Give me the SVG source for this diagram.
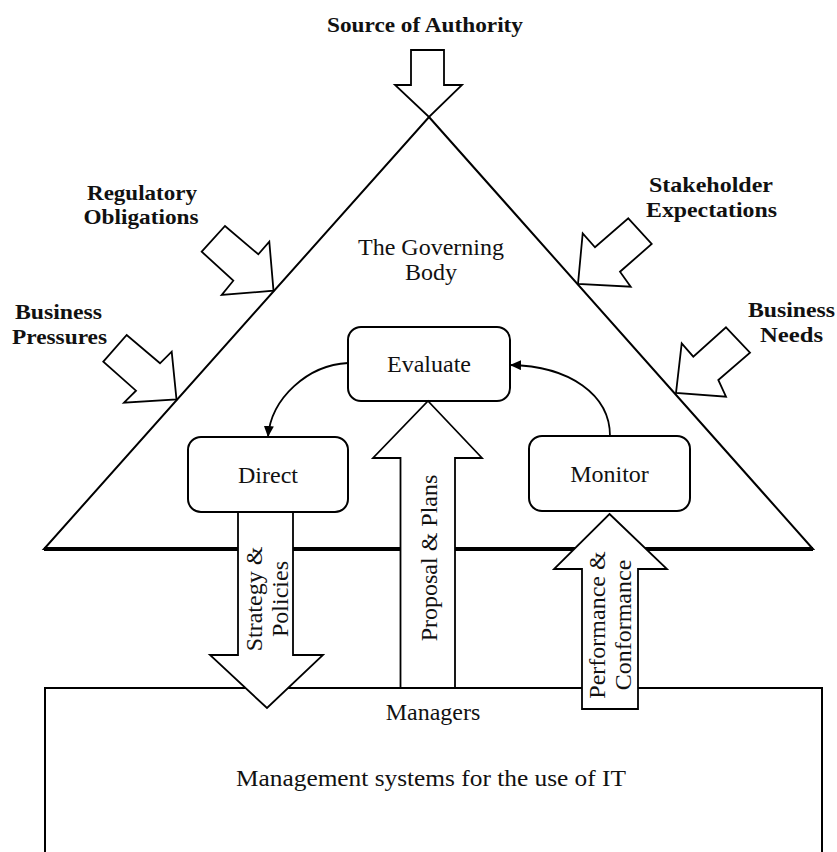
<svg xmlns="http://www.w3.org/2000/svg" width="837" height="852" viewBox="0 0 837 852">
<style>
.bg{fill:#ffffff}
.shape{fill:#ffffff;stroke:#000;stroke-width:2;stroke-linejoin:miter}
.blk{fill:#ffffff;stroke:#000;stroke-width:1.8;stroke-linejoin:miter}
.box{fill:#ffffff;stroke:#000;stroke-width:2}
.curve{fill:none;stroke:#000;stroke-width:1.8}
.lbl{font-family:"Liberation Serif","DejaVu Serif",serif;font-size:24px;fill:#111;text-anchor:middle}
.bold{font-family:"Liberation Serif","DejaVu Serif",serif;font-size:22px;font-weight:bold;fill:#111;text-anchor:middle}
</style>
<defs>
<marker id="ah" markerUnits="userSpaceOnUse" markerWidth="12" markerHeight="10" refX="11" refY="5" orient="auto">
<path d="M0,0 L11,5 L0,10 z" fill="#000"/>
</marker>
</defs>
<rect class="bg" x="0" y="0" width="837" height="852"/>

<g id="governing-body">
<polygon class="shape" points="429,117 813,549 44,549"/>
<line x1="44" y1="549" x2="813" y2="549" stroke="#000" stroke-width="4"/>
<text class="lbl" x="431" y="255">The Governing</text>
<text class="lbl" x="431" y="280">Body</text>
</g>

<g id="managers">
<rect class="box" x="45" y="688" width="777" height="200"/>
<text class="lbl" x="433" y="720">Managers</text>
<text class="lbl" x="431" y="786" textLength="390" lengthAdjust="spacingAndGlyphs">Management systems for the use of IT</text>
</g>

<g id="evaluate">
<rect class="box" x="348" y="327" width="162" height="74" rx="13"/>
<text class="lbl" x="429" y="372">Evaluate</text>
</g>

<g id="direct">
<rect class="box" x="188" y="437" width="160" height="75" rx="13"/>
<text class="lbl" x="268" y="483">Direct</text>
</g>

<g id="monitor">
<rect class="box" x="529" y="436" width="161" height="75" rx="13"/>
<text class="lbl" x="609.5" y="482">Monitor</text>
</g>

<g id="connectors">
<path class="curve" d="M348,363 C308,365 271,398 268,437" marker-end="url(#ah)"/>
<path class="curve" d="M610,436 C610,395 570,366 510,365" marker-end="url(#ah)"/>

<g id="strategy-policies">
<polygon class="blk" points="238,512 293,512 293,655 323,655 267,708 210,655 238,655"/>
<text class="lbl" transform="translate(262,599) rotate(-90)">Strategy &amp;</text>
<text class="lbl" transform="translate(288,599) rotate(-90)">Policies</text>
</g>

<g id="proposal-plans">
<polygon class="blk" points="428,401 482,458 455,458 455,688 400.5,688 400.5,458 373,458"/>
<text class="lbl" transform="translate(437,558) rotate(-90)">Proposal &amp; Plans</text>
</g>

<g id="performance-conformance">
<polygon class="blk" points="609.5,514 667,569 638,569 638,709 582,709 582,569 554,569"/>
<text class="lbl" transform="translate(605,625) rotate(-90)">Performance &amp;</text>
<text class="lbl" transform="translate(631,625) rotate(-90)">Conformance</text>
</g>

<g id="source-of-authority">
<polygon class="blk" points="411,50 444,50 444,85 462,85 429,117 395,85 411,85"/>
<text class="bold" x="425" y="32" textLength="196" lengthAdjust="spacingAndGlyphs">Source of Authority</text>
</g>

<g id="regulatory-obligations">
<polygon class="blk" points="201.7,251.7 225,226 258.3,254.3 269.3,241.7 273.5,290.7 221.7,295 233.3,280.7"/>
<text class="bold" x="142" y="199.5" textLength="110" lengthAdjust="spacingAndGlyphs">Regulatory</text>
<text class="bold" x="141" y="224" textLength="115" lengthAdjust="spacingAndGlyphs">Obligations</text>
</g>

<g id="business-pressures">
<polygon class="blk" points="103.3,361.7 126.7,335 160,363.3 171.7,351.7 176.5,399.5 124,402.7 136,390.7"/>
<text class="bold" x="58.5" y="319" textLength="87" lengthAdjust="spacingAndGlyphs">Business</text>
<text class="bold" x="59.5" y="343.5" textLength="95" lengthAdjust="spacingAndGlyphs">Pressures</text>
</g>

<g id="stakeholder-expectations">
<polygon class="blk" points="628.3,218.3 651.7,244 620,271.7 630.7,286.7 578,284 582.7,233.3 595,247.3"/>
<text class="bold" x="711" y="192" textLength="124" lengthAdjust="spacingAndGlyphs">Stakeholder</text>
<text class="bold" x="711.5" y="216.5" textLength="131" lengthAdjust="spacingAndGlyphs">Expectations</text>
</g>

<g id="business-needs">
<polygon class="blk" points="726,327.3 750,352.7 718.3,380 726,396.7 676,393 681.7,343.3 693.3,356.7"/>
<text class="bold" x="791.5" y="317" textLength="87" lengthAdjust="spacingAndGlyphs">Business</text>
<text class="bold" x="791.5" y="341.5" textLength="63" lengthAdjust="spacingAndGlyphs">Needs</text>
</g>
</g>
</svg>
